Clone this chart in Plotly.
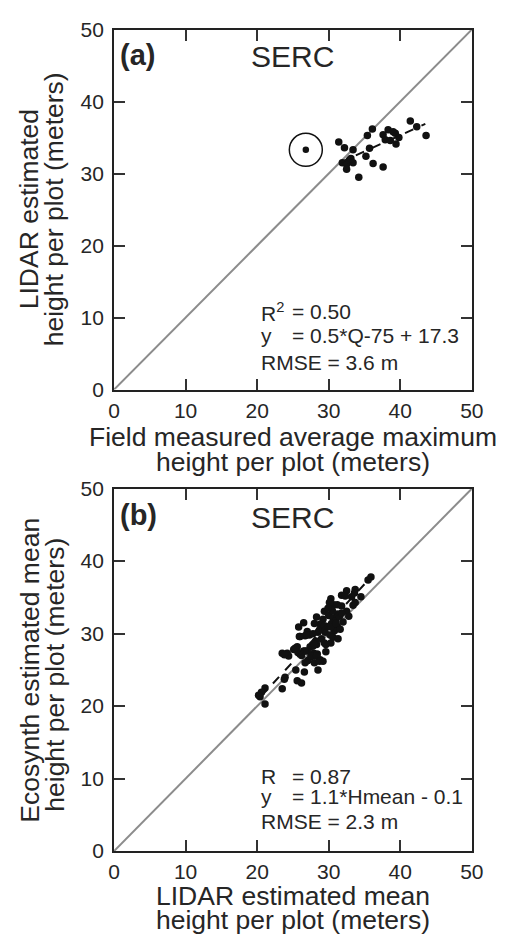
import plotly.graph_objects as go

# ---------------- data ----------------
# Panel (a): field measured vs LIDAR estimated
field_a = [31.4, 32.2, 33.4, 36.1, 35.4, 35.7, 35.2, 31.9, 32.5, 33.4, 32.5, 34.2,
           36.2, 37.6, 37.6, 38.3, 37.9, 38.6, 39.3, 39.8, 39.4, 41.4, 42.3, 43.6,
           39.0, 32.9, 33.1]
lidar_a = [34.4, 33.6, 33.3, 36.2, 35.3, 33.5, 32.4, 31.5, 31.3, 31.5, 30.6, 29.5,
           31.4, 30.9, 35.4, 36.1, 34.7, 34.6, 35.6, 35.0, 34.1, 37.3, 36.5, 35.3,
           35.8, 31.9, 32.1]
outlier_a_x = [26.8]
outlier_a_y = [33.3]
fit_a_x = [31.5, 43.5]
fit_a_y = [31.5, 36.9]

# Panel (b): LIDAR mean vs Ecosynth mean
lidar_b = [35.9, 35.5, 33.7, 32.5, 31.8, 33.2, 34.5, 33.7, 30.3, 30.7, 32.3, 33.6,
           29.4, 31.8, 32.5, 31.2, 28.3, 30.1, 31.2, 33.4,
           30.0, 30.6, 31.0, 31.5, 30.4, 29.8, 31.2, 30.8, 29.5, 30.2, 31.6, 32.0,
           29.2, 28.8, 30.5, 31.8, 32.8, 29.9,
           26.5, 25.8, 28.0, 28.5, 27.0, 29.0, 26.7, 25.9, 27.3, 28.2, 30.3, 29.4,
           28.3, 27.4, 25.6, 25.1, 23.5, 24.2, 24.4, 25.7, 26.5, 26.2, 27.5, 27.9,
           28.4, 27.1, 26.7, 28.0, 28.8, 29.2, 28.5, 26.6, 25.4, 25.6, 26.2, 23.8,
           23.5, 21.1, 20.6, 20.4, 20.2, 21.1, 27.0, 29.6, 30.6, 31.3, 27.8,
           26.9, 26.0, 27.8, 28.7, 29.4, 30.3, 31.0, 23.8, 25.3, 26.7, 28.0, 29.6,
           27.6, 28.3, 28.7, 23.9]
eco_b = [37.8, 37.4, 36.1, 35.9, 35.3, 35.1, 35.1, 34.3, 34.8, 34.0, 35.2, 35.6,
         33.1, 33.8, 33.1, 32.7, 32.3, 34.3, 34.0, 33.9,
         32.5, 32.2, 31.8, 32.4, 31.4, 31.0, 31.0, 30.4, 30.2, 29.8, 30.6, 31.6,
         32.0, 31.3, 33.2, 32.8, 32.4, 33.5,
         31.5, 30.9, 31.4, 30.2, 30.3, 29.3, 29.7, 29.6, 29.8, 29.0, 28.7, 28.7,
         28.5, 28.2, 28.2, 27.8, 27.3, 27.3, 26.9, 27.4, 27.6, 27.0, 26.8, 27.3,
         27.2, 26.3, 26.0, 26.0, 26.4, 26.2, 25.0, 24.7, 25.0, 23.5, 23.2, 23.7,
         22.4, 22.5, 21.9, 21.3, 21.5, 20.3, 27.6, 27.5, 29.5, 29.3, 28.3,
         29.8, 29.6, 30.0, 30.5, 31.1, 30.9, 31.4, 27.1, 28.0, 27.6, 28.5, 28.5,
         26.9, 26.9, 26.2, 24.0]
fit_b_x = [20.5, 36.0]
fit_b_y = [21.3, 37.9]

one_to_one = [0, 50]
ticks = [0, 10, 20, 30, 40, 50]
tick_text = ["0", "10", "20", "30", "40", "50"]

# ---------------- figure ----------------
W, H = 507, 947
FONT = "Liberation Sans, Arial, Helvetica, sans-serif"
TXT = "#262626"
GRAY = "#8c8c8c"


def px(p):
    return p / W


def py(p):
    return 1 - p / H


fig = go.Figure()

# panel a
fig.add_trace(go.Scatter(x=one_to_one, y=one_to_one, mode="lines",
                         line=dict(color=GRAY, width=2), xaxis="x", yaxis="y",
                         showlegend=False, hoverinfo="skip"))
fig.add_trace(go.Scatter(x=field_a, y=lidar_a, mode="markers",
                         marker=dict(color="#111111", size=7.5),
                         xaxis="x", yaxis="y", showlegend=False))
fig.add_trace(go.Scatter(x=fit_a_x, y=fit_a_y, mode="lines",
                         line=dict(color="#111111", width=2, dash="dash"),
                         xaxis="x", yaxis="y", showlegend=False))
fig.add_trace(go.Scatter(x=outlier_a_x, y=outlier_a_y, mode="markers",
                         marker=dict(color="#111111", size=6.5),
                         xaxis="x", yaxis="y", showlegend=False))
fig.add_trace(go.Scatter(x=outlier_a_x, y=outlier_a_y, mode="markers",
                         marker=dict(symbol="circle-open", color="#111111", size=33,
                                     line=dict(width=1.5)),
                         xaxis="x", yaxis="y", showlegend=False))

# panel b
fig.add_trace(go.Scatter(x=one_to_one, y=one_to_one, mode="lines",
                         line=dict(color=GRAY, width=2), xaxis="x2", yaxis="y2",
                         showlegend=False, hoverinfo="skip"))
fig.add_trace(go.Scatter(x=lidar_b, y=eco_b, mode="markers",
                         marker=dict(color="#111111", size=7.5),
                         xaxis="x2", yaxis="y2", showlegend=False))
fig.add_trace(go.Scatter(x=fit_b_x, y=fit_b_y, mode="lines",
                         line=dict(color="#111111", width=2, dash="dash"),
                         xaxis="x2", yaxis="y2", showlegend=False))

axis_common = dict(range=[0, 50], tickvals=ticks, ticktext=tick_text,
                   ticks="inside", ticklen=11, tickwidth=1.5, tickcolor="#333333",
                   showline=True, linewidth=2, linecolor="#222222", mirror="ticks",
                   showgrid=False, zeroline=False,
                   tickfont=dict(family=FONT, size=21, color=TXT))

xdom = [px(112), px(483)]
fig.update_layout(
    width=W, height=H,
    margin=dict(l=0, r=0, t=0, b=0),
    paper_bgcolor="white", plot_bgcolor="white",
    xaxis=dict(domain=xdom, anchor="y", ticklabelstandoff=1, **axis_common),
    yaxis=dict(domain=[py(387), py(18)], anchor="x", ticklabelstandoff=4, **axis_common),
    xaxis2=dict(domain=xdom, anchor="y2", ticklabelstandoff=1, **axis_common),
    yaxis2=dict(domain=[py(860), py(488.5)], anchor="x2", ticklabelstandoff=4, **axis_common),
)

ann = []


def text(x, y, s, size, xanchor="center", bold=False, angle=0):
    ann.append(dict(x=x, y=y, xref="paper", yref="paper", text=("<b>%s</b>" % s) if bold else s,
                    showarrow=False, xanchor=xanchor, yanchor="middle", textangle=angle,
                    font=dict(family=FONT, size=size, color=TXT)))


# panel a texts
text(px(116), py(44), "(a)", 29, xanchor="left", bold=True)
text(px(297.5), py(46), "SERC", 30)
text(px(262), py(307), "R<sup>2</sup>", 21, xanchor="left")
text(px(294), py(307), "= 0.50", 21, xanchor="left")
text(px(262), py(332), "y", 21, xanchor="left")
text(px(294), py(332), "= 0.5*Q-75 + 17.3", 21, xanchor="left")
text(px(262), py(359), "RMSE = 3.6 m", 21, xanchor="left")
text(px(297.5), py(436), "Field measured average maximum", 26.5)
text(px(297.5), py(461), "height per plot (meters)", 26.5)
text(px(24), py(202), "LIDAR estimated", 26.5, angle=-90)
text(px(50), py(202), "height per plot (meters)", 26.5, angle=-90)

# panel b texts
text(px(116), py(516), "(b)", 29, xanchor="left", bold=True)
text(px(297.5), py(518), "SERC", 30)
text(px(262), py(784), "R", 21, xanchor="left")
text(px(294), py(784), "= 0.87", 21, xanchor="left")
text(px(262), py(804), "y", 21, xanchor="left")
text(px(294), py(804), "= 1.1*Hmean - 0.1", 21, xanchor="left")
text(px(262), py(830), "RMSE = 2.3 m", 21, xanchor="left")
text(px(298), py(906), "LIDAR estimated mean", 26.5)
text(px(298), py(931), "height per plot (meters)", 26.5)
text(px(24), py(675), "Ecosynth estimated mean", 26.5, angle=-90)
text(px(50), py(679), "height per plot (meters)", 26.5, angle=-90)

fig.update_layout(annotations=ann)
fig.write_html("out.html")
